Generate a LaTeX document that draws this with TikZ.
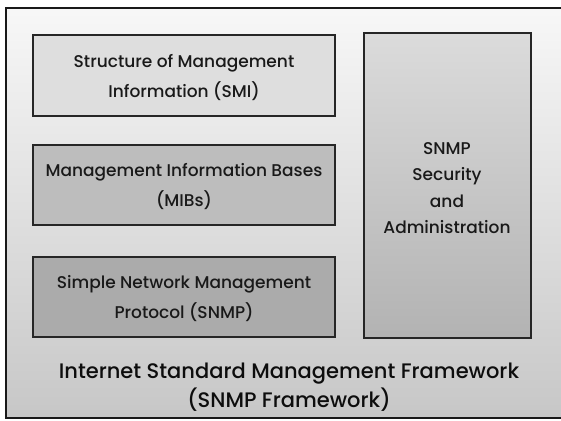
\documentclass[tikz,border=0pt]{standalone}
\usepackage{fontspec}
\setmainfont{Poppins}[UprightFont=* Medium]
\begin{document}
\begin{tikzpicture}[x=1pt,y=-1pt,
  box/.style={draw=black!85, line width=2pt, inner sep=0pt},
  lbl/.style={align=center, font=\fontsize{17}{30}\selectfont, text=black!90}]
\useasboundingbox (0,0) rectangle (561,420);
\clip (0,0) rectangle (561,420);
\fill[white] (0,0) rectangle (561,420);
\draw[line width=2.5pt, draw=black!90, top color=black!3, bottom color=black!22] (6,8) rectangle (590,418);
\draw[box, fill=black!13] (33,35) rectangle (335,116);
\draw[box, fill=black!26] (33,145) rectangle (335,225);
\draw[box, fill=black!33] (33,257) rectangle (335,337);
\draw[box, top color=black!14, bottom color=black!30] (364,33) rectangle (531,338);
\node[lbl] (smi) at (184,78) {Structure of Management\\Information (SMI)};
\node[lbl] (mib) at (184,187) {Management Information Bases\\(MIBs)};
\node[lbl] (snmp) at (184,299) {Simple Network Management\\Protocol (SNMP)};
\node[lbl, font=\fontsize{17}{26.5}\selectfont] (sec) at (447,188) {SNMP\\Security\\and\\Administration};
\node[align=center, font=\fontsize{21}{29}\selectfont, text=black!95] (fw) at (289,387) {Internet Standard Management Framework\\(SNMP Framework)};
\end{tikzpicture}
\end{document}
